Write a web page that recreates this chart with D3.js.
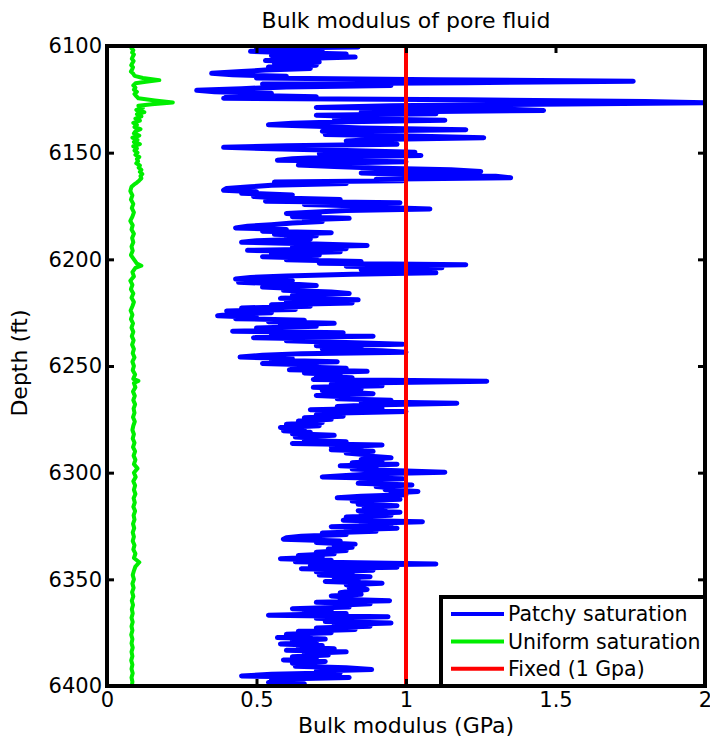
<!DOCTYPE html>
<html>
<head>
<meta charset="utf-8">
<script src="https://cdn.jsdelivr.net/npm/d3@7"></script>
<style>
  html, body { margin: 0; padding: 0; background: #fff; }
  svg text { font-family: "DejaVu Sans", sans-serif; fill: #000; }
</style>
</head>
<body>
<svg id="chart" width="710" height="749"></svg>
<script>
// ---------- data ----------
const title = "Bulk modulus of pore fluid";
const xLabel = "Bulk modulus (GPa)";
const yLabel = "Depth (ft)";
const xTicks = [0, 0.5, 1, 1.5, 2];
const xTickLabels = ["0", "0.5", "1", "1.5", "2"];
const yTicks = [6100, 6150, 6200, 6250, 6300, 6350, 6400];
const seriesNames = ["Patchy saturation", "Uniform saturation", "Fixed (1 Gpa)"];
const seriesColors = ["#0000ff", "#00ee00", "#ff0000"];
const fixedValue = 1;

// Patchy saturation: [depth (ft), bulk modulus (GPa)]
const patchy = [
[6100.0,0.62],[6100.5,0.84],[6101.0,0.50],[6101.8,0.72],[6102.5,0.48],[6103.0,0.60],[6103.8,0.80],[6104.5,0.55],
[6105.2,0.83],[6106.0,0.62],[6106.8,0.53],[6107.5,0.71],[6108.3,0.56],[6109.0,0.70],[6109.8,0.54],[6110.5,0.68],
[6111.3,0.53],[6112.0,0.45],[6112.8,0.35],[6113.5,0.42],[6114.2,0.60],[6115.0,0.50],[6115.8,1.10],[6116.5,1.76],
[6117.2,1.20],[6117.8,0.52],[6118.5,0.95],[6119.2,0.60],[6120.0,0.45],[6120.8,0.30],[6121.5,0.36],[6122.2,0.55],
[6123.0,0.40],[6123.8,0.70],[6124.5,0.39],[6125.2,1.20],[6126.0,1.80],[6126.6,2.00],[6127.3,1.45],[6128.0,0.95],
[6128.8,0.70],[6129.5,1.30],[6130.2,1.46],[6131.0,0.85],[6131.8,1.10],[6132.5,0.70],[6133.3,0.90],[6134.0,0.76],
[6134.8,1.13],[6135.5,0.80],[6136.2,0.62],[6136.9,0.54],[6137.6,0.70],[6138.4,0.85],[6139.2,1.20],[6140.0,0.72],
[6140.8,0.85],[6141.5,0.73],[6142.3,1.05],[6143.0,1.26],[6143.8,0.90],[6144.5,0.80],[6145.3,0.92],[6146.0,0.97],
[6146.8,0.60],[6147.5,0.39],[6148.2,0.55],[6149.0,0.80],[6149.8,1.03],[6150.5,0.71],[6151.3,1.05],[6152.0,0.75],
[6152.8,0.62],[6153.5,0.57],[6154.3,1.00],[6155.0,0.72],[6155.8,0.64],[6156.5,0.76],[6157.3,0.92],[6158.0,1.15],
[6158.8,1.25],[6159.5,0.85],[6160.3,1.05],[6161.0,1.30],[6161.8,1.35],[6162.5,0.90],
[6163.2,0.99],[6163.8,0.56],[6164.5,0.80],[6165.3,0.55],[6166.0,0.48],[6166.8,0.40],[6167.6,0.39],[6168.3,0.50],
[6169.0,0.45],[6169.8,0.62],[6170.5,0.49],[6171.3,0.58],[6172.0,0.78],[6172.8,0.53],[6173.5,0.98],[6174.3,0.66],
[6175.0,0.85],[6175.8,0.95],[6176.4,1.08],[6177.1,0.80],[6177.8,0.70],[6178.5,0.60],[6179.2,0.71],[6180.0,0.62],
[6180.8,0.81],[6181.5,0.66],[6182.3,0.72],[6183.0,0.62],[6183.8,0.55],[6184.5,0.47],[6185.3,0.43],[6186.0,0.60],
[6186.8,0.52],[6187.5,0.75],[6188.3,0.56],[6189.0,0.70],[6189.8,0.60],[6190.5,0.68],[6191.3,0.50],[6192.0,0.45],
[6192.8,0.70],[6193.5,0.87],[6194.2,0.62],[6195.0,0.80],[6195.8,0.47],[6196.5,0.78],[6197.3,0.55],[6198.0,0.71],
[6198.8,0.52],[6199.5,0.70],[6200.2,0.60],[6201.0,0.85],[6201.8,0.71],[6202.5,1.20],[6203.2,0.80],[6204.0,1.12],
[6204.8,0.85],[6205.5,0.99],[6206.3,1.10],[6207.0,0.82],[6207.8,0.60],[6208.5,0.48],[6209.2,0.43],[6210.0,0.62],
[6210.8,0.44],[6211.5,0.60],[6212.3,0.70],[6213.0,0.52],[6213.8,0.65],[6214.5,0.59],[6215.3,0.75],[6216.0,0.81],
[6216.8,0.62],[6217.5,0.70],[6218.3,0.58],[6219.0,0.84],[6219.8,0.60],[6220.5,0.82],[6221.3,0.55],[6222.0,0.68],
[6222.8,0.45],[6223.5,0.63],[6224.2,0.40],
[6225.0,0.55],[6225.7,0.42],[6226.4,0.37],[6227.1,0.50],[6227.8,0.43],[6228.5,0.66],[6229.2,0.54],[6230.0,0.76],
[6230.7,0.58],[6231.4,0.70],[6232.2,0.50],[6233.0,0.62],[6233.7,0.42],[6234.4,0.79],[6235.2,0.55],[6236.0,0.89],
[6236.7,0.49],[6237.4,0.72],[6238.2,0.60],[6239.0,0.80],[6239.8,0.99],[6240.5,0.70],[6241.3,0.85],[6242.0,0.72],
[6242.8,0.92],[6243.5,1.00],[6244.2,0.65],[6245.0,0.52],[6245.8,0.445],[6246.5,0.62],[6247.3,0.55],[6248.0,0.77],
[6248.8,0.52],[6249.5,0.70],[6250.3,0.62],[6251.0,0.80],[6251.8,0.61],[6252.5,0.87],[6253.3,0.66],[6254.0,0.78],
[6254.8,0.70],[6255.5,0.82],[6256.3,0.69],[6257.1,1.27],[6257.8,0.90],[6258.5,0.75],[6259.3,0.92],[6260.0,0.69],
[6260.8,0.85],[6261.5,0.72],[6262.3,0.80],[6263.0,0.89],[6263.8,0.70],[6264.5,0.82],[6265.3,0.77],[6266.0,0.95],
[6266.8,0.85],[6267.5,1.17],[6268.3,0.88],[6269.0,0.77],[6269.8,0.92],[6270.5,0.68],[6271.3,1.00],[6272.0,0.78],
[6272.8,0.70],[6273.5,0.79],[6274.3,0.66],[6275.0,0.75],[6275.8,0.64],[6276.5,0.72],[6277.3,0.60],[6278.0,0.71],
[6278.8,0.58],[6279.5,0.66],[6280.3,0.59],[6281.0,0.68],[6281.8,0.62],[6282.5,0.76],
[6283.3,0.63],[6284.0,0.72],[6284.8,0.66],[6285.5,0.80],[6286.3,0.62],[6287.0,0.92],[6287.8,0.75],[6288.5,0.85],
[6289.3,0.75],[6290.0,0.89],[6290.8,0.80],[6291.5,0.86],[6292.3,0.88],[6293.0,0.95],[6293.8,0.85],[6294.5,0.92],
[6295.3,0.82],[6296.0,0.97],[6296.8,0.78],[6297.5,0.90],[6298.3,0.82],[6299.0,0.95],[6299.8,1.13],[6300.5,0.90],
[6301.3,0.80],[6302.0,0.72],[6302.8,0.99],[6303.5,0.85],[6304.3,0.92],[6305.0,0.84],[6305.8,1.02],[6306.5,0.90],
[6307.3,0.97],[6308.0,0.93],[6308.8,1.04],[6309.5,0.95],[6310.3,1.00],[6311.0,0.85],[6311.8,0.77],[6312.5,0.98],
[6313.3,0.82],[6314.0,0.90],[6314.8,0.84],[6315.5,0.97],[6316.3,0.86],[6317.0,0.93],[6317.8,0.84],[6318.5,0.98],
[6319.3,0.85],[6320.0,0.95],[6320.8,0.80],[6321.5,0.90],[6322.3,0.79],[6323.0,1.055],[6323.8,0.85],[6324.5,0.95],
[6325.3,0.75],[6326.0,0.97],[6326.8,0.80],[6327.5,0.90],[6328.3,0.72],[6329.0,0.80],[6329.8,0.65],[6330.5,0.60],
[6331.2,0.59],[6332.0,0.78],[6332.7,0.70],[6333.5,0.83],[6334.3,0.76],[6335.0,0.82],[6335.8,0.74],[6336.5,0.80],
[6337.3,0.70],[6338.0,0.76],[6338.8,0.64],[6339.5,0.72],[6340.3,0.58],[6341.0,0.75],[6341.8,0.63],[6342.8,1.10],
[6343.5,0.68],[6344.3,0.97],[6345.0,0.65],[6345.7,0.89],
[6346.5,0.70],[6347.3,0.82],[6348.0,0.71],[6348.8,0.88],[6349.5,0.76],[6350.3,0.84],[6351.0,0.73],[6351.8,0.92],
[6352.5,0.80],[6353.3,0.86],[6354.0,0.81],[6354.8,0.87],[6355.5,0.82],[6356.3,0.78],[6357.0,0.85],[6357.8,0.75],
[6358.5,0.82],[6359.3,0.78],[6360.0,0.945],[6360.8,0.70],[6361.5,0.88],[6362.3,0.75],[6363.0,0.81],[6363.8,0.62],
[6364.5,0.75],[6365.3,0.66],[6366.0,0.80],[6366.8,0.54],[6367.5,0.94],[6368.3,0.70],[6369.0,0.85],[6369.8,0.73],
[6370.5,0.95],[6371.3,0.76],[6372.0,0.88],[6372.8,0.70],[6373.5,0.83],[6374.3,0.64],[6375.0,0.75],[6375.8,0.60],
[6376.5,0.68],[6377.3,0.57],[6378.0,0.73],[6378.8,0.62],[6379.5,0.70],[6380.3,0.58],[6381.0,0.72],[6381.8,0.64],
[6382.5,0.76],[6383.3,0.60],[6384.0,0.80],[6384.8,0.66],[6385.5,0.74],[6386.3,0.62],[6387.0,0.70],[6387.8,0.59],
[6388.5,0.73],[6389.3,0.62],[6390.0,0.70],[6390.8,0.63],[6391.5,0.80],[6392.3,0.885],[6393.0,0.70],[6393.8,0.78],
[6394.5,0.55],[6395.3,0.45],[6396.0,0.81],[6396.8,0.55],[6397.5,0.62],[6398.3,0.54],[6399.0,0.66],[6399.5,0.58],
[6400.0,0.59]
];

// Uniform saturation: [depth (ft), bulk modulus (GPa)]
const uniform = [
[6100,0.085],[6101,0.082],[6102,0.088],[6103,0.084],[6104,0.090],[6105,0.086],[6106,0.083],[6107,0.089],
[6108,0.085],[6109,0.081],[6110,0.087],[6111,0.084],[6112,0.080],[6113,0.088],[6114,0.092],[6115,0.12],
[6116,0.175],[6116.8,0.13],[6117.5,0.095],[6118.5,0.088],[6119.5,0.095],[6120.5,0.090],[6121.5,0.100],[6122.5,0.092],
[6123.5,0.098],[6124.5,0.105],[6125.5,0.16],[6126.5,0.22],[6127.3,0.15],[6128,0.105],[6129,0.12],[6130,0.098],
[6131,0.125],[6132,0.1],[6133,0.115],[6134,0.095],[6135,0.11],[6136,0.088],[6137,0.1],[6138,0.092],
[6139,0.112],[6140,0.095],[6141,0.09],[6142,0.108],[6143,0.085],[6144,0.102],[6145,0.09],[6146,0.11],
[6147,0.088],[6148,0.1],[6149,0.092],[6150,0.102],[6151,0.095],[6152,0.108],[6153,0.1],[6154,0.104],
[6155,0.098],[6156,0.11],[6157,0.106],[6158,0.115],[6159,0.11],[6160,0.118],[6161,0.112],[6162,0.115],
[6163,0.108],[6164,0.1],[6165,0.09],[6166,0.082],[6168,0.078],[6170,0.085],[6172,0.08],[6174,0.088],
[6176,0.083],[6178,0.09],[6180,0.085],[6182,0.078],[6184,0.086],[6186,0.082],[6188,0.09],[6190,0.084],
[6192,0.088],[6194,0.082],[6196,0.086],[6198,0.08],[6200,0.09],[6202,0.1],[6203,0.115],[6204,0.095],
[6206,0.085],[6208,0.09],[6210,0.078],[6212,0.085],[6214,0.08],[6216,0.088],[6218,0.082],[6220,0.09],
[6222,0.085],[6224,0.079],[6226,0.085],[6228,0.08],[6230,0.087],[6232,0.082],[6234,0.088],[6236,0.083],
[6238,0.089],[6240,0.084],[6242,0.09],[6244,0.086],[6246,0.092],[6248,0.085],[6250,0.09],[6252,0.086],
[6254,0.094],[6256,0.088],[6257,0.105],[6258,0.09],[6260,0.095],[6262,0.087],[6264,0.093],[6266,0.088],
[6268,0.094],[6270,0.089],[6272,0.092],[6274,0.087],[6276,0.093],[6278,0.088],[6280,0.085],[6282,0.09],
[6284,0.086],[6286,0.092],[6288,0.087],[6290,0.094],[6292,0.089],[6294,0.095],[6296,0.09],[6298,0.102],
[6300,0.09],[6302,0.096],[6304,0.088],[6306,0.094],[6308,0.09],[6310,0.095],[6312,0.089],[6314,0.093],
[6316,0.088],[6318,0.094],[6320,0.089],[6322,0.092],[6324,0.087],[6326,0.091],[6328,0.086],[6330,0.09],
[6332,0.086],[6334,0.092],[6336,0.088],[6338,0.095],[6340,0.09],[6342,0.108],[6344,0.095],[6346,0.09],
[6348,0.086],[6350,0.09],[6352,0.085],[6354,0.089],[6356,0.084],[6358,0.088],[6360,0.083],[6362,0.087],
[6364,0.083],[6366,0.086],[6368,0.082],[6370,0.086],[6372,0.082],[6374,0.085],[6376,0.081],[6378,0.085],
[6380,0.082],[6382,0.086],[6384,0.082],[6386,0.085],[6388,0.081],[6390,0.085],[6392,0.082],[6394,0.086],
[6396,0.082],[6398,0.085],[6400,0.083]
];

// ---------- layout ----------
const svg = d3.select("#chart");
const L = 107, R = 705, T = 46, B = 686;
const x = d3.scaleLinear().domain([0, 2]).range([L, R]);
const y = d3.scaleLinear().domain([6100, 6400]).range([T, B]);

svg.append("rect").attr("width", 710).attr("height", 749).attr("fill", "#fff");

svg.append("defs").append("clipPath").attr("id", "clip")
  .append("rect").attr("x", L).attr("y", T).attr("width", R - L).attr("height", B - T);

const plot = svg.append("g").attr("clip-path", "url(#clip)");
const line = d3.line().x(d => x(d[1])).y(d => y(d[0]));

plot.append("path").datum(patchy).attr("d", line)
  .attr("fill", "none").attr("stroke", seriesColors[0]).attr("stroke-width", 5).attr("stroke-linejoin", "round");
plot.append("path").datum(uniform).attr("d", line)
  .attr("fill", "none").attr("stroke", seriesColors[1]).attr("stroke-width", 4).attr("stroke-linejoin", "round");
plot.append("path").datum([[6100, fixedValue], [6400, fixedValue]]).attr("d", line)
  .attr("fill", "none").attr("stroke", seriesColors[2]).attr("stroke-width", 4);

// axes (ticks inward, on all four sides)
const tickLen = 7;
const fs = 21;
const axB = d3.axisBottom(x).tickValues(xTicks).tickSize(-tickLen).tickPadding(6)
  .tickFormat((d, i) => xTickLabels[i]);
const axT = d3.axisTop(x).tickValues(xTicks).tickSize(-tickLen).tickFormat("");
const axLft = d3.axisLeft(y).tickValues(yTicks).tickSize(-tickLen).tickPadding(5).tickFormat(d3.format("d"));
const axRt = d3.axisRight(y).tickValues(yTicks).tickSize(-tickLen).tickFormat("");

function style(g) {
  g.select(".domain").remove();
  g.selectAll(".tick line").attr("stroke", "#000").attr("stroke-width", 3);
  g.selectAll(".tick text").attr("font-size", fs).attr("fill", "#000")
    .attr("font-family", "DejaVu Sans, sans-serif");
}
svg.append("g").attr("transform", `translate(0,${B})`).call(axB).call(style)
  .selectAll(".tick text").attr("dy", "0.72em");
svg.append("g").attr("transform", `translate(0,${T})`).call(axT).call(style);
svg.append("g").attr("transform", `translate(${L},0)`).call(axLft).call(style);
svg.append("g").attr("transform", `translate(${R},0)`).call(axRt).call(style);

// frame
svg.append("rect").attr("x", L).attr("y", T).attr("width", R - L).attr("height", B - T)
  .attr("fill", "none").attr("stroke", "#000").attr("stroke-width", 4);

// titles
svg.append("text").attr("x", (L + R) / 2).attr("y", 28).attr("text-anchor", "middle")
  .attr("font-size", 22).text(title);
svg.append("text").attr("x", 406).attr("y", 733).attr("text-anchor", "middle")
  .attr("font-size", 22).text(xLabel);
svg.append("text").attr("transform", `translate(27,${(T + B) / 2 - 3}) rotate(-90)`)
  .attr("text-anchor", "middle").attr("font-size", 22).text(yLabel);

// legend
const lg = svg.append("g");
const lgX = 441, lgY = 597;
lg.append("rect").attr("x", lgX).attr("y", lgY).attr("width", R - lgX).attr("height", B - lgY)
  .attr("fill", "#fff").attr("stroke", "#000").attr("stroke-width", 4);
seriesNames.forEach((name, i) => {
  const cy = 614 + i * 27.4;
  lg.append("line").attr("x1", 451).attr("x2", 504).attr("y1", cy).attr("y2", cy)
    .attr("stroke", seriesColors[i]).attr("stroke-width", 4);
  lg.append("text").attr("x", 508).attr("y", cy).attr("dy", "0.36em")
    .attr("font-size", 20.5).text(name);
});
</script>
</body>
</html>
